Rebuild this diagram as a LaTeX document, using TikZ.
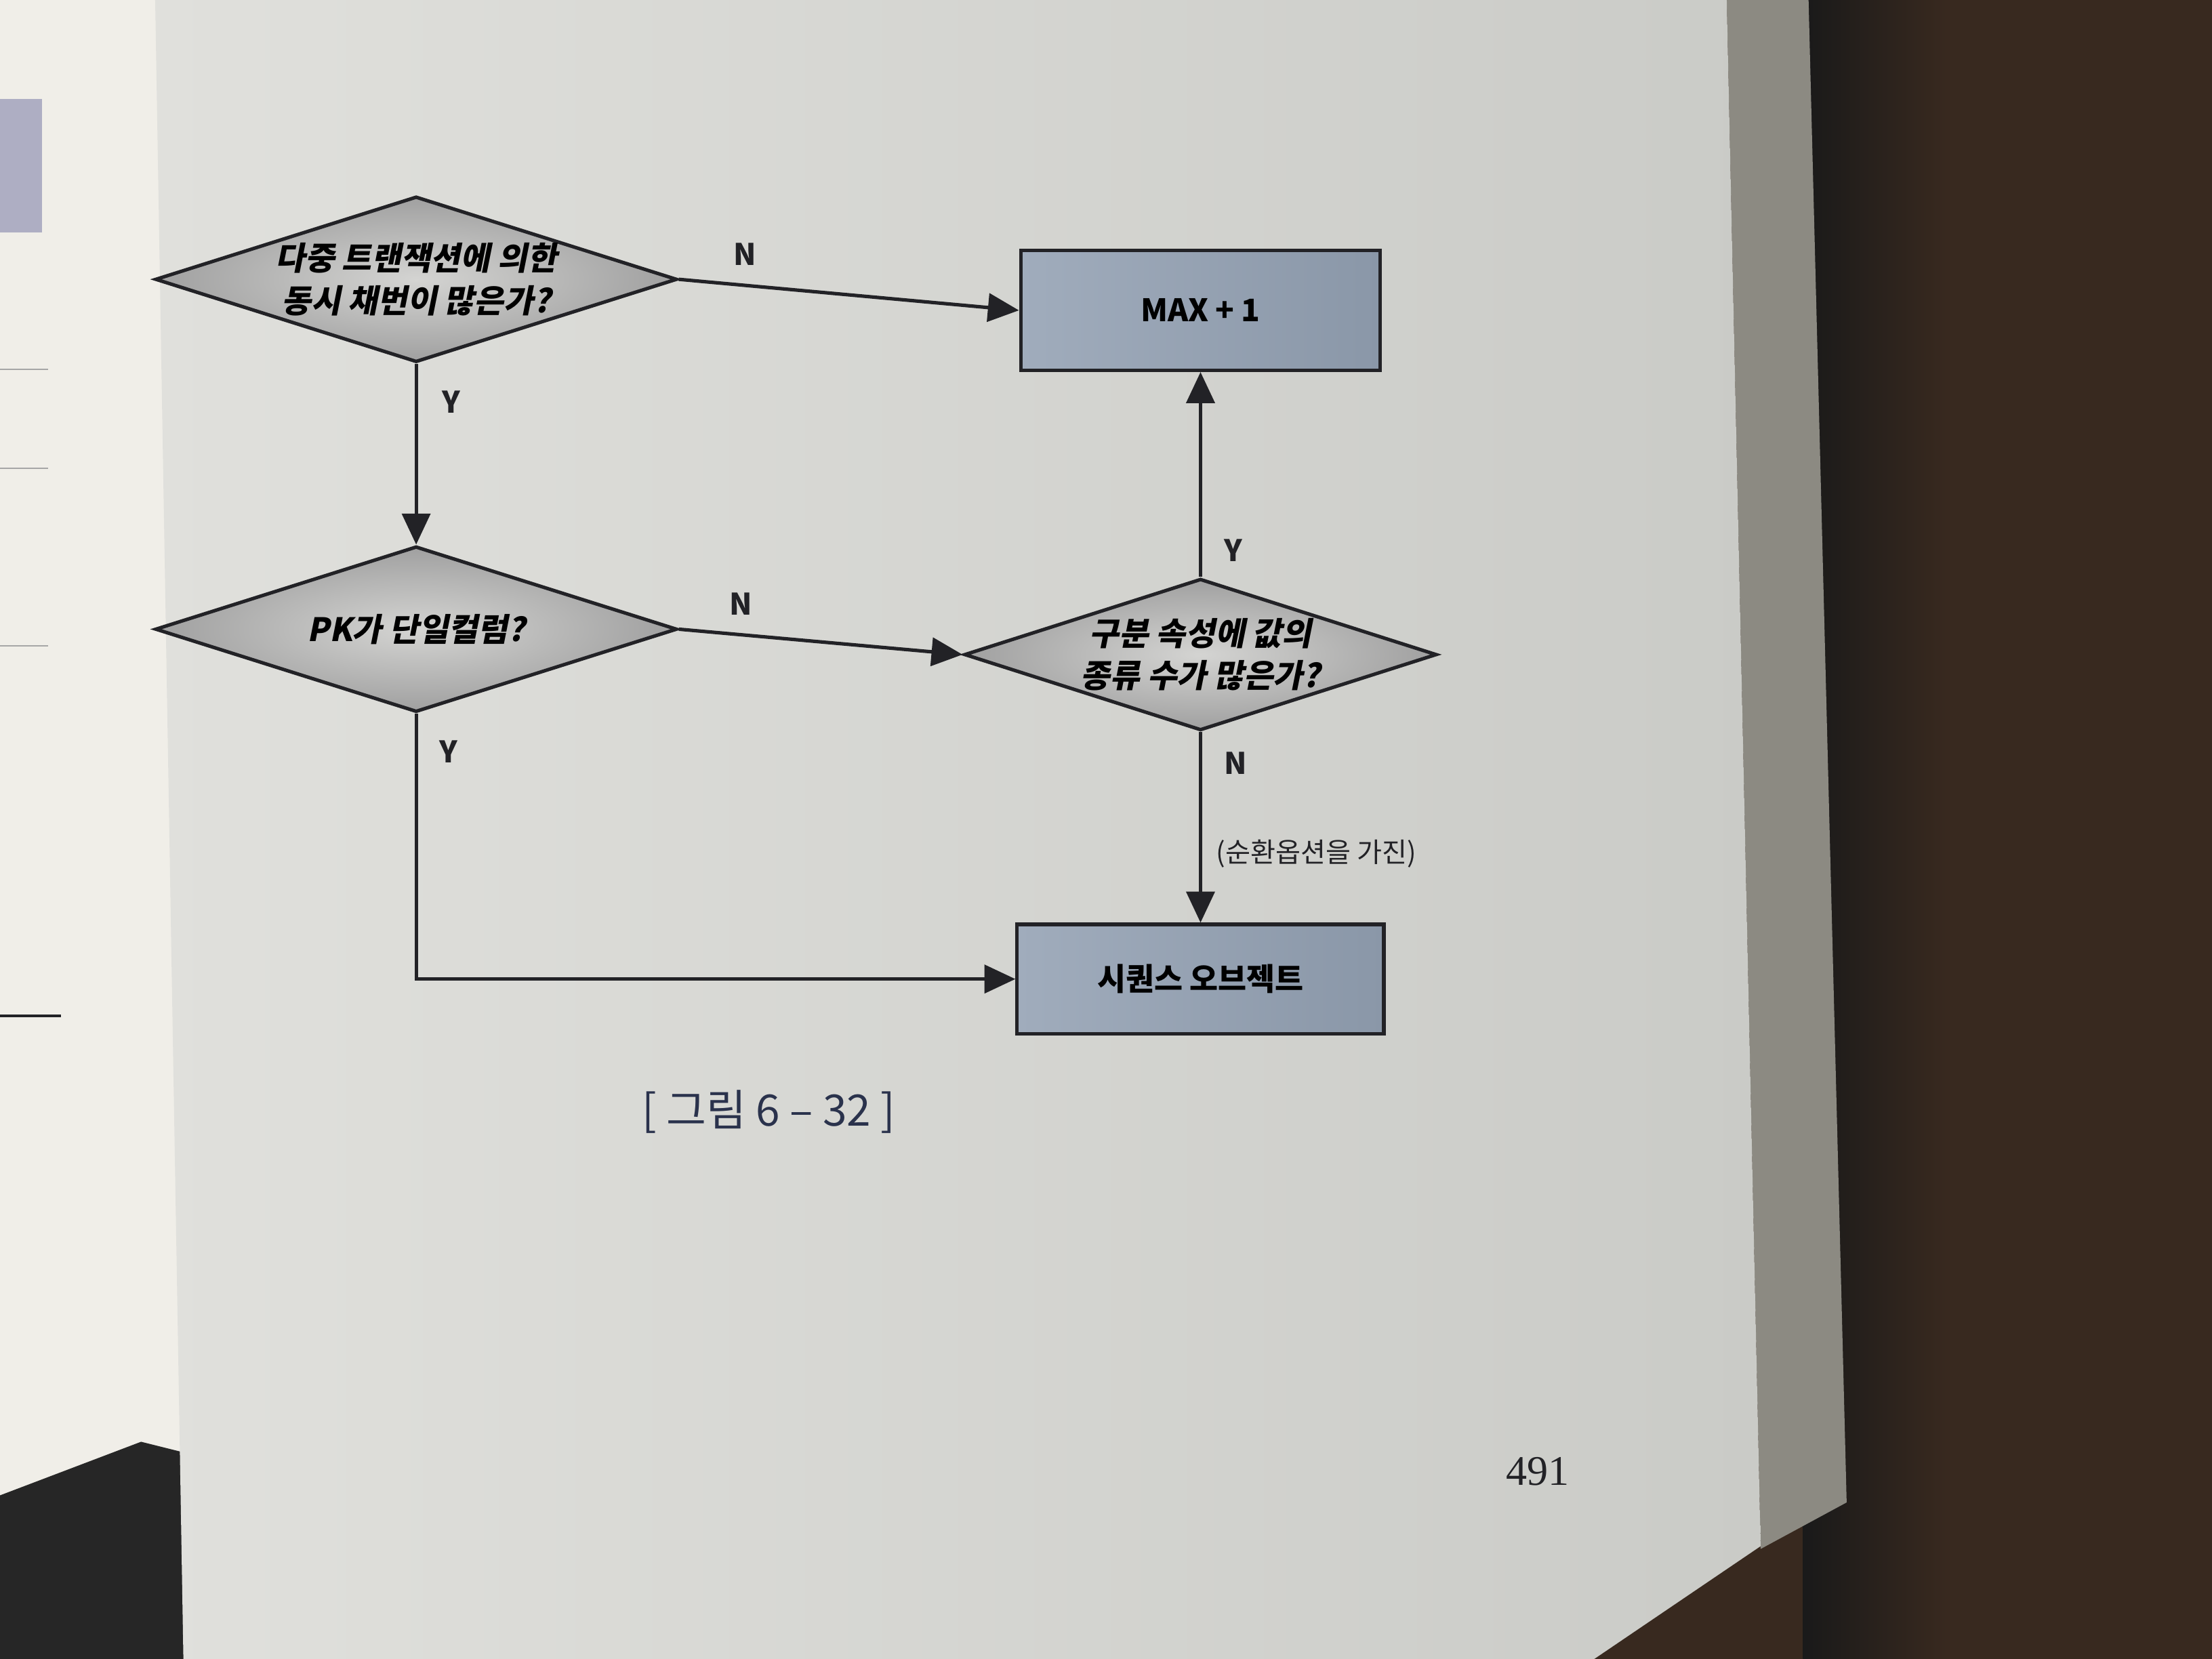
\documentclass[tikz,border=0pt]{standalone}
\usepackage{fontspec}
\setmainfont{Noto Sans CJK KR}
\newfontfamily\krslant{Noto Sans CJK KR}[FakeSlant=0.2]
\newfontfamily\numserif{Liberation Serif}
\usetikzlibrary{arrows.meta,shapes.geometric,positioning}
\definecolor{ink}{RGB}{34,34,38}
\definecolor{navy}{RGB}{42,50,76}
\definecolor{pageL}{RGB}{224,224,220}
\definecolor{pageR}{RGB}{202,203,199}
\definecolor{leftpage}{RGB}{240,238,232}
\definecolor{bookedge}{RGB}{140,138,130}
\definecolor{wood}{RGB}{56,41,31}
\definecolor{dIn}{RGB}{212,212,210}
\definecolor{dOut}{RGB}{160,160,160}
\definecolor{boxL}{RGB}{160,172,188}
\definecolor{boxR}{RGB}{138,151,168}
\tikzset{
  decision/.style={diamond,draw=ink,line width=1.4pt,
                   inner color=dIn,outer color=dOut,aspect=3.1,
                   minimum width=#1,minimum height=2.35cm,inner sep=0pt,
                   align=center,font=\krslant\bfseries\fontsize{13}{17}\selectfont},
  decision/.default=7.4cm,
  process/.style={rectangle,draw=ink,line width=1.4pt,
                  left color=boxL,right color=boxR,
                  minimum width=5.1cm,minimum height=1.7cm,
                  font=\bfseries\fontsize{12.5}{14}\selectfont},
  flow/.style={-{Triangle[length=4.4mm,width=4mm]},line width=1.4pt,draw=ink},
  yn/.style={font=\bfseries\fontsize{12}{14}\selectfont,text=ink},
}

\begin{document}
\begin{tikzpicture}[x=0.02cm,y=-0.02cm,
      note/.style={font=\fontsize{11}{13}\selectfont,text=ink},
    ]
    \useasboundingbox (0,0) rectangle (1568,1176);

    % photo background
    \fill[wood] (0,0) rectangle (1568,1176);
    \shade[left color=black!90,right color=wood] (1278,0) rectangle (1380,1176);
    \fill[leftpage] (0,0) -- (112,0) -- (132,1176) -- (0,1176) -- cycle;
    \fill[black!85] (0,1060) -- (100,1022) -- (132,1030) -- (132,1176) -- (0,1176) -- cycle;
    \fill[bookedge] (1224,0) -- (1282,0) -- (1309,1065) -- (1248,1098) -- cycle;
    \shade[left color=pageL,right color=pageR]
      (110,0) -- (1224,0) -- (1248,1096) -- (1130,1176) -- (130,1176) -- cycle;
    \fill[blue!15!gray!55] (0,70) rectangle (30,165);
    \foreach \yy in {262,332,458}
      \draw[gray!70,line width=0.5pt] (0,\yy) -- (34,\yy);
    \draw[ink,line width=1pt] (0,720) -- (43,720);

    \node[decision] (multi) at (295,198) {다중 트랜잭션에 의한\\동시 채번이 많은가?};
    \node[decision] (pk)    at (295,446) {PK가 단일컬럼?};
    \node[decision=6.7cm,minimum height=2.15cm] (distinct) at (851,464) {구분 속성에 값의\\종류 수가 많은가?};
    \node[process] (maxone) at (851,220) {MAX + 1};
    \node[process,minimum width=5.2cm,minimum height=1.55cm] (seqobj) at (851,694) {시퀀스 오브젝트};

    % branches
    \draw[flow] (multi.east)     -- (maxone.west);
    \draw[flow] (multi.south)    -- (pk.north);
    \draw[flow] (pk.east)        -- (distinct.west);
    \draw[flow] (distinct.north) -- (maxone.south);
    \draw[flow] (distinct.south) -- (seqobj.north);
    \draw[flow] (pk.south)       |- (seqobj.west);

    \node[yn] (multiN)    at (528,180) {N};
    \node[yn] (multiY)    at (320,285) {Y};
    \node[yn] (pkN)       at (525,428) {N};
    \node[yn] (pkY)       at (318,533) {Y};
    \node[yn] (distinctY) at (874,390) {Y};
    \node[yn] (distinctN) at (876,541) {N};
    \node[note,anchor=west] (cyclenote) at (856,605) {(순환옵션을 가진)};

    \node[font=\fontsize{17.5}{20}\selectfont,text=navy] (caption) at (545,788) {[ 그림 6 – 32 ]};
    \node[font=\numserif\fontsize{17}{19}\selectfont,text=ink] (pageno) at (1090,1043) {491};

  \end{tikzpicture}
\end{document}
